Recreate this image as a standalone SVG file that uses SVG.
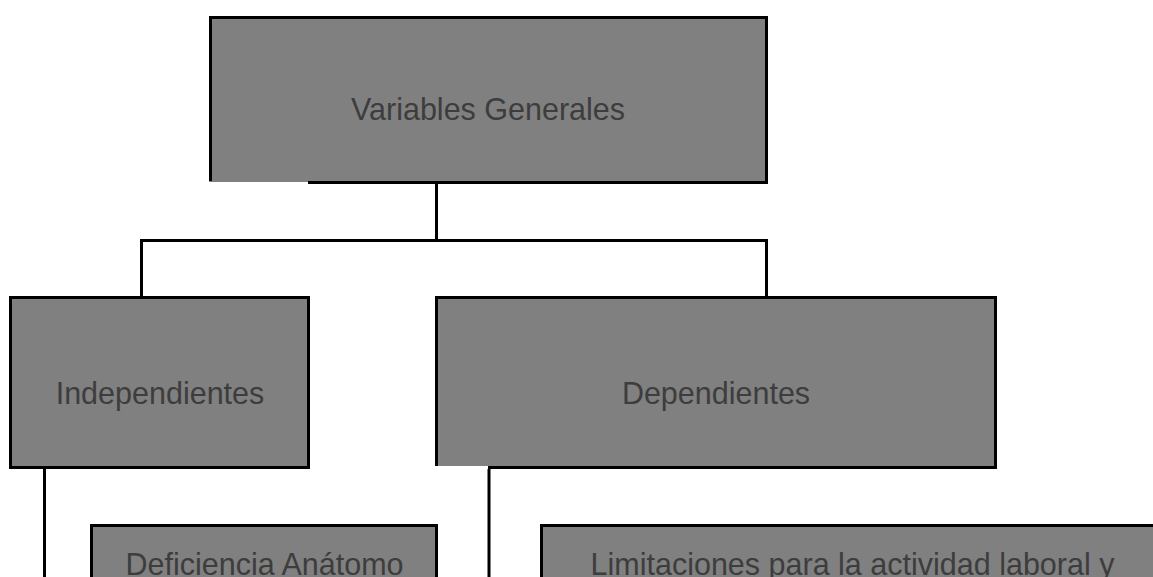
<svg xmlns="http://www.w3.org/2000/svg" width="1153" height="577" viewBox="0 0 1153 577">
<style>
.fill{fill:#808080;stroke:none}
.bd{fill:none;stroke:#000;stroke-width:3}
.lbl{font-family:"Liberation Sans",Arial,sans-serif;font-size:30.5px;fill:#3d3d3d;text-anchor:middle}
.cn{fill:none;stroke:#000;stroke-width:3}
</style>
<rect width="1153" height="577" fill="#fff"/>
<g id="connectors">
<path class="cn" d="M436.5,184 V240.5"/>
<path class="cn" d="M141.5,296 V240.5 H766.5 V296"/>
<path class="cn" d="M44.5,469 V577"/>
<path class="cn" d="M489,469 V577"/>
</g>
<g id="node-variables-generales">
<rect class="fill" x="209" y="16" width="559" height="166"/>
<path class="bd" d="M210.5,181 V17.5 H766.5 V182.5 H308"/>
<text class="lbl" x="488" y="119.5">Variables Generales</text>
</g>
<g id="node-independientes">
<rect class="fill" x="10.5" y="297.5" width="298" height="170"/>
<rect class="bd" x="10.5" y="297.5" width="298" height="170"/>
<text class="lbl" x="160" y="404">Independientes</text>
</g>
<g id="node-dependientes">
<rect class="fill" x="435" y="296" width="562" height="170"/>
<path class="bd" d="M436.5,466 V297.5 H995.5 V467.5 H488"/>
<text class="lbl" x="716" y="404">Dependientes</text>
</g>
<g id="node-deficiencia">
<rect class="fill" x="91.5" y="525.5" width="345" height="80"/>
<rect class="bd" x="91.5" y="525.5" width="345" height="80"/>
<text class="lbl" x="264.5" y="575">Deficiencia Anátomo</text>
</g>
<g id="node-limitaciones">
<rect class="fill" x="541.5" y="525.5" width="640" height="80"/>
<rect class="bd" x="541.5" y="525.5" width="640" height="80"/>
<text class="lbl" x="852.5" y="575">Limitaciones para la actividad laboral y</text>
</g>
</svg>
